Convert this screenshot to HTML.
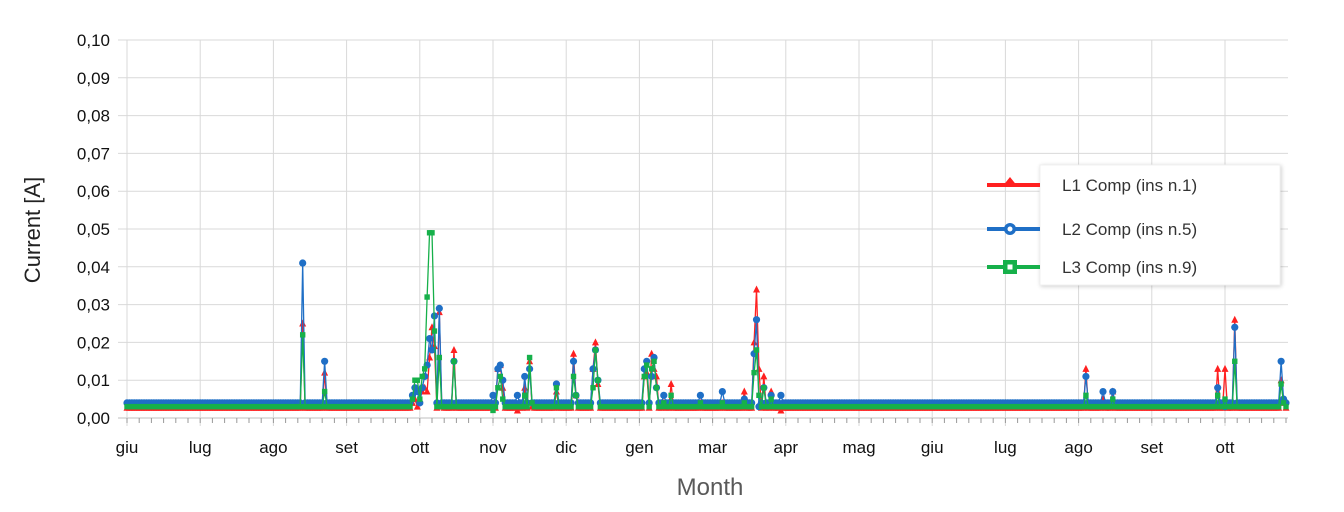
<!DOCTYPE html>
<html><head><meta charset="utf-8">
<style>
html,body{margin:0;padding:0;background:#fff;}
svg{display:block;font-family:"Liberation Sans",sans-serif;}
</style></head>
<body>
<svg id="chart" width="1344" height="512" viewBox="0 0 1344 512">
<defs><filter id="sh" x="-10%" y="-10%" width="120%" height="120%"><feGaussianBlur in="SourceAlpha" stdDeviation="2"/><feOffset dx="1" dy="1"/><feComponentTransfer><feFuncA type="linear" slope="0.2"/></feComponentTransfer><feMerge><feMergeNode/><feMergeNode in="SourceGraphic"/></feMerge></filter></defs>
<g id="grid"></g>
<g id="yaxis"></g>
<g id="xaxis"></g>
<g id="series"></g>
<text x="40" y="230" transform="rotate(-90 40 230)" text-anchor="middle" font-size="22" fill="#222">Current  [A]</text>
<text x="710" y="495" text-anchor="middle" font-size="24" fill="#595959">Month</text>
<g id="legend"></g>
</svg>
<script>
const NDAYS = 476;
const monthLabels = ["giu","lug","ago","set","ott","nov","dic","gen","mar","apr","mag","giu","lug","ago","set","ott"];
const yTicks = [0,0.01,0.02,0.03,0.04,0.05,0.06,0.07,0.08,0.09,0.10];
const l1Base = 0.0027, l2Base = 0.004, l3Base = 0.003;
// spike days and values
const spikeDays = [72,81,117,118,119,120,121,122,123,124,125,126,128,129,134,150,152,153,154,160,163,165,166,176,183,184,191,192,193,212,213,215,216,217,220,223,235,244,253,257,258,259,261,264,268,393,400,404,447,450,454,473,474];
const l1Spikes = [.025,.012,.004,.005,.003,.005,.007,.008,.007,.016,.024,.019,.028,.003,.018,.003,.013,.014,.008,.002,.008,.015,.003,.007,.017,.006,.013,.020,.009,.011,.012,.017,.013,.011,.004,.009,.004,.004,.007,.020,.034,.013,.011,.007,.002,.013,.005,.007,.013,.013,.026,.010,.004];
const l2Spikes = [.041,.015,.006,.008,.007,.004,.008,.011,.014,.021,.018,.027,.029,.004,.015,.006,.013,.014,.010,.006,.011,.013,.004,.009,.015,.006,.013,.018,.010,.013,.015,.011,.016,.008,.006,.004,.006,.007,.005,.017,.026,.003,.008,.006,.006,.011,.007,.007,.008,.003,.024,.015,.005];
const l3Spikes = [.022,.007,.005,.010,.010,.005,.011,.013,.032,.049,.049,.023,.016,.003,.015,.002,.008,.011,.005,.003,.006,.016,.004,.008,.011,.006,.008,.018,.010,.011,.014,.013,.015,.008,.004,.006,.004,.004,.004,.012,.018,.006,.008,.005,.003,.006,.003,.005,.006,.005,.015,.009,.004];

const NS="http://www.w3.org/2000/svg";
const X0=127, PXDAY=2.44, Y0=418, YTOP=40;
const xS=d=>X0+d*PXDAY;
const yS=v=>Y0-(v/0.10)*(Y0-YTOP);
function mk(tag,attrs,parent){const e=document.createElementNS(NS,tag);for(const k in attrs)e.setAttribute(k,attrs[k]);parent.appendChild(e);return e;}
const grid=document.getElementById('grid'),yax=document.getElementById('yaxis'),xax=document.getElementById('xaxis'),ser=document.getElementById('series'),leg=document.getElementById('legend');

yTicks.forEach(v=>{
  const l=mk('line',{x1:118,x2:1288,y1:yS(v),y2:yS(v),stroke:v===0?'#bfbfbf':'#d9d9d9','stroke-width':1},grid);
  
  
  const t=mk('text',{x:110,y:yS(v)+6,'text-anchor':'end','font-size':17,fill:'#111'},yax);
  t.textContent=v.toFixed(2).replace('.',',');
  
  
});
monthLabels.forEach((m,i)=>{
  const x=xS(i*30);
  const l=mk('line',{x1:x,x2:x,y1:YTOP,y2:Y0+8,stroke:'#d9d9d9','stroke-width':1},grid);
  
  
  const t=mk('text',{x:x,y:453,'text-anchor':'middle','font-size':17,fill:'#111'},xax);
  t.textContent=m;
  
  
});
for(let d=0;d<NDAYS;d+=5){
  const t=mk('line',{x1:xS(d),x2:xS(d),y1:Y0,y2:Y0+5,stroke:'#999','stroke-width':1},xax);
  
  
}

function build(base,sp){const a=[];for(let d=0;d<NDAYS;d++)a.push(base);spikeDays.forEach((d,i)=>{a[d]=sp[i];});return a;}
const series=[
 {name:'l1-series',vals:build(l1Base,l1Spikes),color:'#ff2020',marker:'tri'},
 {name:'l2-series',vals:build(l2Base,l2Spikes),color:'#1f6fc6',marker:'circ'},
 {name:'l3-series',vals:build(l3Base,l3Spikes),color:'#16b04a',marker:'sq'}
];
series.forEach(s=>{
  const g=mk('g',{},ser);
  
  
  const pts=s.vals.map((v,d)=>xS(d)+','+yS(v)).join(' ');
  const pl=mk('polyline',{points:pts,fill:'none',stroke:s.color,'stroke-width':1.3},g);
  
  
  s.vals.forEach((v,d)=>{
    const x=xS(d),y=yS(v);let m;
    if(s.marker==='tri') m=mk('polygon',{points:`${x},${y-4} ${x-3.5},${y+3} ${x+3.5},${y+3}`,fill:s.color},g);
    else if(s.marker==='circ') m=mk('circle',{cx:x,cy:y,r:3.6,fill:s.color},g);
    else m=mk('rect',{x:x-2.7,y:y-2.7,width:5.4,height:5.4,fill:s.color},g);
    
    
  });
});

// legend
const box=mk('rect',{x:1040,y:165,width:240,height:120,fill:'#fff',stroke:'#f0f0f0','stroke-width':1,filter:'url(#sh)'},leg);


const legItems=[['L1 Comp (ins n.1)','#ff2020','tri',185],['L2 Comp (ins n.5)','#1f6fc6','circ',229],['L3 Comp (ins n.9)','#16b04a','sq',267]];
legItems.forEach(it=>{
  const g=mk('g',{},leg);
  
  
  const y=it[3];
  mk('line',{x1:987,x2:1040,y1:y,y2:y,stroke:it[1],'stroke-width':4},g);
  if(it[2]==='tri') mk('polygon',{points:`1010,${y-8} 1002,${y+2} 1018,${y+2}`,fill:it[1]},g);
  else if(it[2]==='circ'){mk('circle',{cx:1010,cy:y,r:6,fill:it[1]},g);mk('circle',{cx:1010,cy:y,r:2.5,fill:'#fff'},g);}
  else {mk('rect',{x:1003,y:y-7,width:14,height:14,fill:it[1]},g);mk('rect',{x:1007.5,y:y-2.5,width:5,height:5,fill:'#fff'},g);}
  const t=mk('text',{x:1062,y:y+6,'font-size':17,fill:'#333'},g);
  t.textContent=it[0];
  
  
});
</script>
</body></html>
